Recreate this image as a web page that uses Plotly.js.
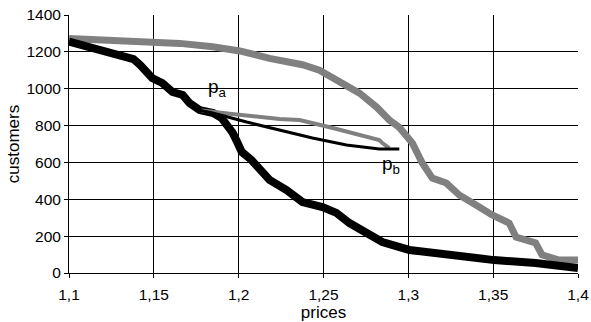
<!DOCTYPE html>
<html>
<head>
<meta charset="utf-8">
<script src="https://cdn.plot.ly/plotly-3.0.1.min.js"></script>
<style>html,body{margin:0;padding:0;background:#fff;}#chart{width:591px;height:322px;}</style>
</head>
<body>
<div id="chart"></div>
<script>
// Main curves
const blackX = [1.1, 1.108, 1.118, 1.128, 1.138, 1.142, 1.145, 1.149, 1.155, 1.161, 1.167, 1.171, 1.177, 1.185, 1.190, 1.1965, 1.1994, 1.2018, 1.2076, 1.2124, 1.2182, 1.2282, 1.2376, 1.2494, 1.2576, 1.2653, 1.2753, 1.2847, 1.3006, 1.322, 1.3506, 1.375, 1.4];
const blackY = [1255, 1237, 1215, 1188, 1161, 1128, 1091, 1058, 1031, 982, 966, 922, 884, 868, 840, 760, 705, 657, 613, 559, 505, 450, 385, 358, 326, 271, 217, 168, 125, 98, 70, 54, 27];

const grayX = [1.1, 1.115, 1.1359, 1.1653, 1.1847, 1.2006, 1.2182, 1.2376, 1.2476, 1.2612, 1.2712, 1.2812, 1.2888, 1.2947, 1.3024, 1.3082, 1.3141, 1.3224, 1.33, 1.3418, 1.3494, 1.3594, 1.3635, 1.375, 1.3788, 1.3888, 1.4];
const grayY = [1272, 1268, 1260, 1246, 1228, 1205, 1165, 1130, 1101, 1030, 976, 901, 830, 790, 705, 597, 515, 488, 423, 358, 315, 271, 195, 163, 98, 70, 70];

// pa -> pb lines
const grayThinX = [1.178, 1.1847, 1.1947, 1.2241, 1.2359, 1.2555, 1.2753, 1.2829, 1.2847, 1.2888];
const grayThinY = [882, 874, 864, 836, 830, 787, 738, 722, 705, 678];

const blackThinX = [1.176, 1.1847, 1.2047, 1.2241, 1.2435, 1.2635, 1.2829, 1.2947];
const blackThinY = [884, 868, 819, 776, 733, 695, 673, 673];

// Axis ticks
const xTickVals = [1.1, 1.15, 1.2, 1.25, 1.3, 1.35, 1.4];
const xTickText = ['1,1', '1,15', '1,2', '1,25', '1,3', '1,35', '1,4'];
const yTickVals = [0, 200, 400, 600, 800, 1000, 1200, 1400];

const traces = [
  {x: grayX, y: grayY, mode: 'lines', line: {color: '#808080', width: 7}, hoverinfo: 'skip'},
  {x: blackX, y: blackY, mode: 'lines', line: {color: '#000000', width: 8}, hoverinfo: 'skip'},
  {x: grayThinX, y: grayThinY, mode: 'lines', line: {color: '#808080', width: 4}, hoverinfo: 'skip'},
  {x: blackThinX, y: blackThinY, mode: 'lines', line: {color: '#000000', width: 3}, hoverinfo: 'skip'}
];

const layout = {
  width: 591, height: 322,
  margin: {l: 69, r: 13, t: 15, b: 49},
  paper_bgcolor: '#fff', plot_bgcolor: '#fff',
  showlegend: false,
  separators: ', ',
  font: {family: 'Liberation Sans, Arial, sans-serif', size: 15.5, color: '#000'},
  xaxis: {
    range: [1.1, 1.4], tickmode: 'array', tickvals: xTickVals, ticktext: xTickText,
    showgrid: true, gridcolor: '#000', gridwidth: 1,
    showline: true, linecolor: '#000', linewidth: 1,
    ticks: 'outside', ticklen: 4, tickcolor: '#000',
    tickfont: {size: 15.5}, ticklabelstandoff: 3,
    zeroline: false, fixedrange: true,
    title: {text: 'prices', standoff: 0, font: {size: 17}},
    automargin: false
  },
  yaxis: {
    range: [0, 1400], tickmode: 'array', tickvals: yTickVals,
    showgrid: true, gridcolor: '#000', gridwidth: 1,
    showline: true, linecolor: '#000', linewidth: 1,
    ticks: 'outside', ticklen: 4, tickcolor: '#000',
    tickfont: {size: 15.5},
    zeroline: false, fixedrange: true,
    title: {text: 'customers', standoff: 2, font: {size: 17}},
    automargin: false
  },
  annotations: [
    {x: 1.1876, y: 1004, xref: 'x', yref: 'y', text: 'p<sub>a</sub>', showarrow: false, font: {size: 19, color: '#000'}},
    {x: 1.29, y: 586, xref: 'x', yref: 'y', text: 'p<sub>b</sub>', showarrow: false, font: {size: 19, color: '#000'}}
  ]
};

Plotly.newPlot('chart', traces, layout, {displayModeBar: false, staticPlot: true});
</script>
</body>
</html>
